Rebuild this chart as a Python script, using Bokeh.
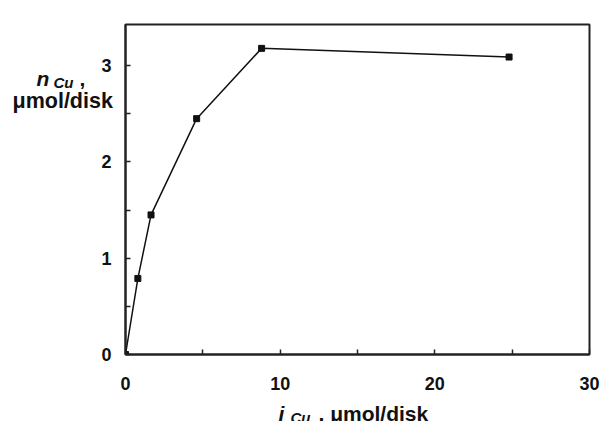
from bokeh.plotting import figure
from bokeh.models import FixedTicker, Label, Range1d
from bokeh.embed import file_html
from bokeh.resources import INLINE

# data
i_cu = [0.0, 0.8, 1.65, 4.6, 8.8, 24.8]
n_cu = [0.0, 0.79, 1.45, 2.45, 3.18, 3.09]
x_ticks = [0, 10, 20, 30]
x_minor = [5, 15, 25]
y_ticks = [0, 1, 2, 3]
y_minor = [0.5, 1.5, 2.5]

# frame: left 125, right 589, bottom 354; top border holds one label row (~21 px),
# so the y range end is set to keep the reference scale (340 px for 0..3.5)
TOP = 21
p = figure(width=600, height=421, output_backend="svg", toolbar_location=None,
           x_range=Range1d(0, 30), y_range=Range1d(0, 3.5 * (354 - TOP) / 340),
           min_border_left=125, min_border_right=11, min_border_top=TOP, min_border_bottom=67)
p.grid.visible = False
p.outline_line_color = "#222222"
p.outline_line_width = 2

for ax, t, m in ((p.xaxis[0], x_ticks, x_minor), (p.yaxis[0], y_ticks, y_minor)):
    ax.ticker = FixedTicker(ticks=t, minor_ticks=m)
    ax.major_tick_in = 5
    ax.major_tick_out = 0
    ax.minor_tick_in = 5
    ax.minor_tick_out = 0
    ax.axis_line_width = 2
    ax.axis_line_color = "#222222"
    ax.major_tick_line_width = 1.5
    ax.minor_tick_line_width = 1.5
    ax.major_tick_line_color = "#222222"
    ax.minor_tick_line_color = "#222222"
    ax.major_label_text_font = "Liberation Sans"
    ax.major_label_text_font_style = "bold"
    ax.major_label_text_font_size = "18px"
    ax.major_label_text_color = "#111111"
p.xaxis.major_label_standoff = 22
p.yaxis.major_label_standoff = 14

p.line(i_cu, n_cu, line_color="#111111", line_width=1.5)
p.scatter(i_cu, n_cu, marker="square", size=6, fill_color="#111111", line_color="#111111")

# axis-title pieces: (x, baseline y) in page pixels, text, size, style, side panel
# (labels placed in side panels are not clipped to the frame; the side is chosen
#  so the panels stay within the borders)
pieces = [
    (278, 413, "i", "21px", "bold italic", "left"),
    (290, 417, "Cu", "15px", "bold italic", "left"),
    (318, 413, ", μmol/disk", "21px", "bold", "below"),
    (36, 78, "n", "21px", "bold italic", "left"),
    (53, 82, "Cu", "15px", "bold italic", "left"),
    (79, 78, ",", "21px", "bold", "left"),
    (12, 100, "μmol/disk", "21.5px", "bold", "above"),
]

for x, y, t, s, st, side in pieces:
    p.add_layout(Label(x=x, y=y, x_units="canvas", y_units="canvas", text=t,
                       text_font="Liberation Sans", text_font_style=st,
                       text_font_size=s, text_color="#111111", text_align="left",
                       text_baseline="alphabetic"), side)

open("out.html", "w").write(file_html(p, INLINE))
